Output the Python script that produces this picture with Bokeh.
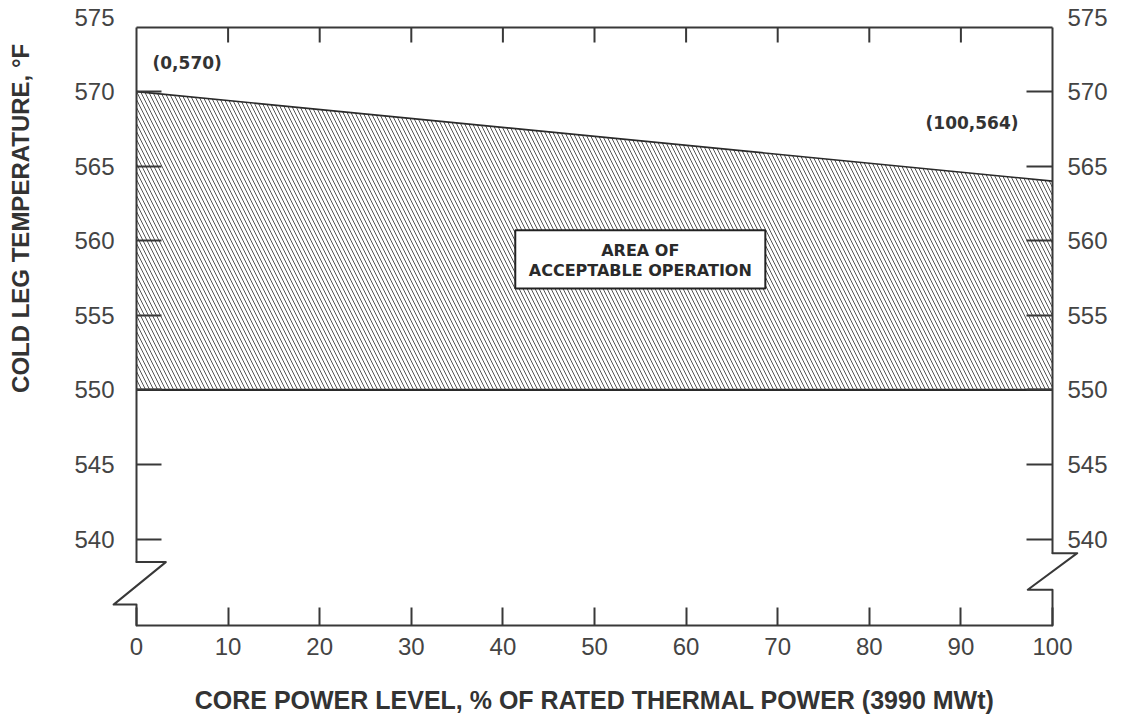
from math import pi

from bokeh.core.properties import value
from bokeh.embed import file_html
from bokeh.models import FixedTicker, Label, LinearAxis, PolyAnnotation, Range1d
from bokeh.plotting import figure
from bokeh.resources import INLINE

# ---- data -------------------------------------------------------------
power_pct = [0, 100]                 # core power level, % of rated thermal power
upper_limit_F = [570, 564]           # upper cold-leg temperature limit
lower_limit_F = [550, 550]           # lower cold-leg temperature limit
x_ticks = [0, 10, 20, 30, 40, 50, 60, 70, 80, 90, 100]
y_ticks = [540, 545, 550, 555, 560, 565, 570, 575]
point_labels = ["(0,570)", "(100,564)"]
area_label = ["AREA OF", "ACCEPTABLE OPERATION"]

# ---- layout -------------------------------------------------------------
W, H = 1130, 715
X_MIN, X_MAX = 0, 100                # drawn frame, data units
Y_MIN, Y_MAX = 534.2, 574.3
M_LEFT, M_RIGHT, M_TOP, M_BOTTOM = 136, 78, 27, 90   # margins around the drawn frame, px

# the canvas itself is the plotting area; the axes are pinned to the frame edges
px_x = (W - M_LEFT - M_RIGHT) / (X_MAX - X_MIN)
px_y = (H - M_TOP - M_BOTTOM) / (Y_MAX - Y_MIN)
x_range = Range1d(X_MIN - M_LEFT / px_x, X_MAX + M_RIGHT / px_x)
y_range = Range1d(Y_MIN - M_BOTTOM / px_y, Y_MAX + M_TOP / px_y)

INK = "#383838"
TICK_FONT = "Liberation Sans"
TICK_SIZE = "24px"
TICK_COLOR = "#444444"

p = figure(
    width=W, height=H, x_range=x_range, y_range=y_range,
    x_axis_location=None, y_axis_location=None,
    output_backend="svg", toolbar_location=None,
    min_border=0,
)
p.outline_line_color = None
p.grid.visible = False
p.background_fill_color = "white"
p.border_fill_color = "white"


def style_axis(ax, tick_len):
    ax.axis_line_color = INK
    ax.axis_line_width = 2
    ax.major_tick_line_color = INK
    ax.major_tick_line_width = 2
    ax.major_tick_in = tick_len
    ax.major_tick_out = 0
    ax.minor_tick_line_color = None
    ax.major_label_text_font = TICK_FONT
    ax.major_label_text_font_size = TICK_SIZE
    ax.major_label_text_color = TICK_COLOR


# temperature scale stops at the break above the power axis
BREAK_L = (538.45, 535.6)
BREAK_R = (539.05, 536.6)
visible_y = [t for t in y_ticks if t <= Y_MAX]

left = LinearAxis(ticker=FixedTicker(ticks=visible_y), fixed_location=X_MIN,
                  bounds=(BREAK_L[0], Y_MAX))
style_axis(left, 25)
left.major_label_standoff = 22
p.add_layout(left, "left")

right = LinearAxis(ticker=FixedTicker(ticks=visible_y), fixed_location=X_MAX,
                   bounds=(BREAK_R[0], Y_MAX))
style_axis(right, 26)
right.major_label_standoff = 15
p.add_layout(right, "right")

bottom = LinearAxis(ticker=FixedTicker(ticks=x_ticks), fixed_location=Y_MIN,
                    bounds=(X_MIN, X_MAX))
style_axis(bottom, 18)
bottom.major_label_standoff = 12
bottom.axis_label = "CORE POWER LEVEL, % OF RATED THERMAL POWER (3990 MWt)"
bottom.axis_label_text_font = TICK_FONT
bottom.axis_label_text_font_size = "25px"
bottom.axis_label_text_font_style = "bold"
bottom.axis_label_text_color = "#333333"
bottom.axis_label_standoff = 28
p.add_layout(bottom, "below")

# top edge of the frame with inward ticks
inner = x_ticks[1:-1]
p.line([X_MIN, X_MAX], [Y_MAX, Y_MAX], line_color=INK, line_width=2)
p.segment(x0=inner, y0=[Y_MAX] * len(inner), x1=inner,
          y1=[Y_MAX - 15 / px_y] * len(inner), line_color=INK, line_width=2)

# top tick value sits just above the frame
for xv, off, align in ((X_MIN, -22, "right"), (X_MAX, 15, "left")):
    p.add_layout(Label(
        x=xv, y=y_ticks[-1], text=str(y_ticks[-1]), x_offset=off,
        text_align=align, text_baseline="middle",
        text_font=TICK_FONT, text_font_size=TICK_SIZE, text_color=TICK_COLOR,
    ))

# vertical axis title
p.add_layout(Label(
    x=X_MIN, y=561.5, x_offset=-116, angle=pi / 2,
    text="COLD LEG TEMPERATURE, \u00b0F",
    text_align="center", text_baseline="middle",
    text_font=TICK_FONT, text_font_size="24px", text_font_style="bold",
    text_color="#333333",
))

# axis break symbols (path traced out and back so it is not closed across the gap)
lx = [0, 3.2, -2.5, 0, 0, 0, -2.5, 3.2]
ly = [BREAK_L[0], BREAK_L[0], BREAK_L[1], BREAK_L[1], Y_MIN, BREAK_L[1], BREAK_L[1], BREAK_L[0]]
rx = [100, 102.7, 97.3, 100, 100, 100, 97.3, 102.7]
ry = [BREAK_R[0], BREAK_R[0], BREAK_R[1], BREAK_R[1], Y_MIN, BREAK_R[1], BREAK_R[1], BREAK_R[0]]
for xs, ys in ((lx, ly), (rx, ry)):
    p.add_layout(PolyAnnotation(
        xs=xs, ys=ys, fill_color=None, fill_alpha=0,
        line_color=INK, line_alpha=1.0, line_width=2, line_join="round",
    ))

# acceptable operating area
p.varea(
    x=power_pct, y1=lower_limit_F, y2=upper_limit_F,
    fill_alpha=0, hatch_pattern="\\", hatch_scale=8,
    hatch_color="#555555", hatch_weight=1,
)
p.line(power_pct, upper_limit_F, line_color="#2a2a2a", line_width=1.6)
p.line(power_pct, lower_limit_F, line_color="#2a2a2a", line_width=2.2)

# end-point annotations
p.add_layout(Label(
    x=power_pct[0], y=upper_limit_F[0], text=point_labels[0],
    x_offset=16, y_offset=29, text_align="left", text_baseline="middle",
    text_font="DejaVu Sans", text_font_size="17px", text_font_style="bold",
    text_color="#333333",
))
p.add_layout(Label(
    x=power_pct[-1], y=upper_limit_F[-1], text=point_labels[1],
    x_offset=-34, y_offset=58, text_align="right", text_baseline="middle",
    text_font="DejaVu Sans", text_font_size="17px", text_font_style="bold",
    text_color="#333333",
))

# label box inside the area
p.rect(x=55.0, y=558.75, width=27.3, height=3.9,
       fill_color="white", line_color="#222222", line_width=2)
p.text(x=[55.0, 55.0], y=[559.33, 557.98], text=area_label,
       text_align="center", text_baseline="middle",
       text_font=value("DejaVu Sans"), text_font_size="16px",
       text_font_style="bold", text_color="#2a2a2a")

open("out.html", "w").write(file_html(p, INLINE))
